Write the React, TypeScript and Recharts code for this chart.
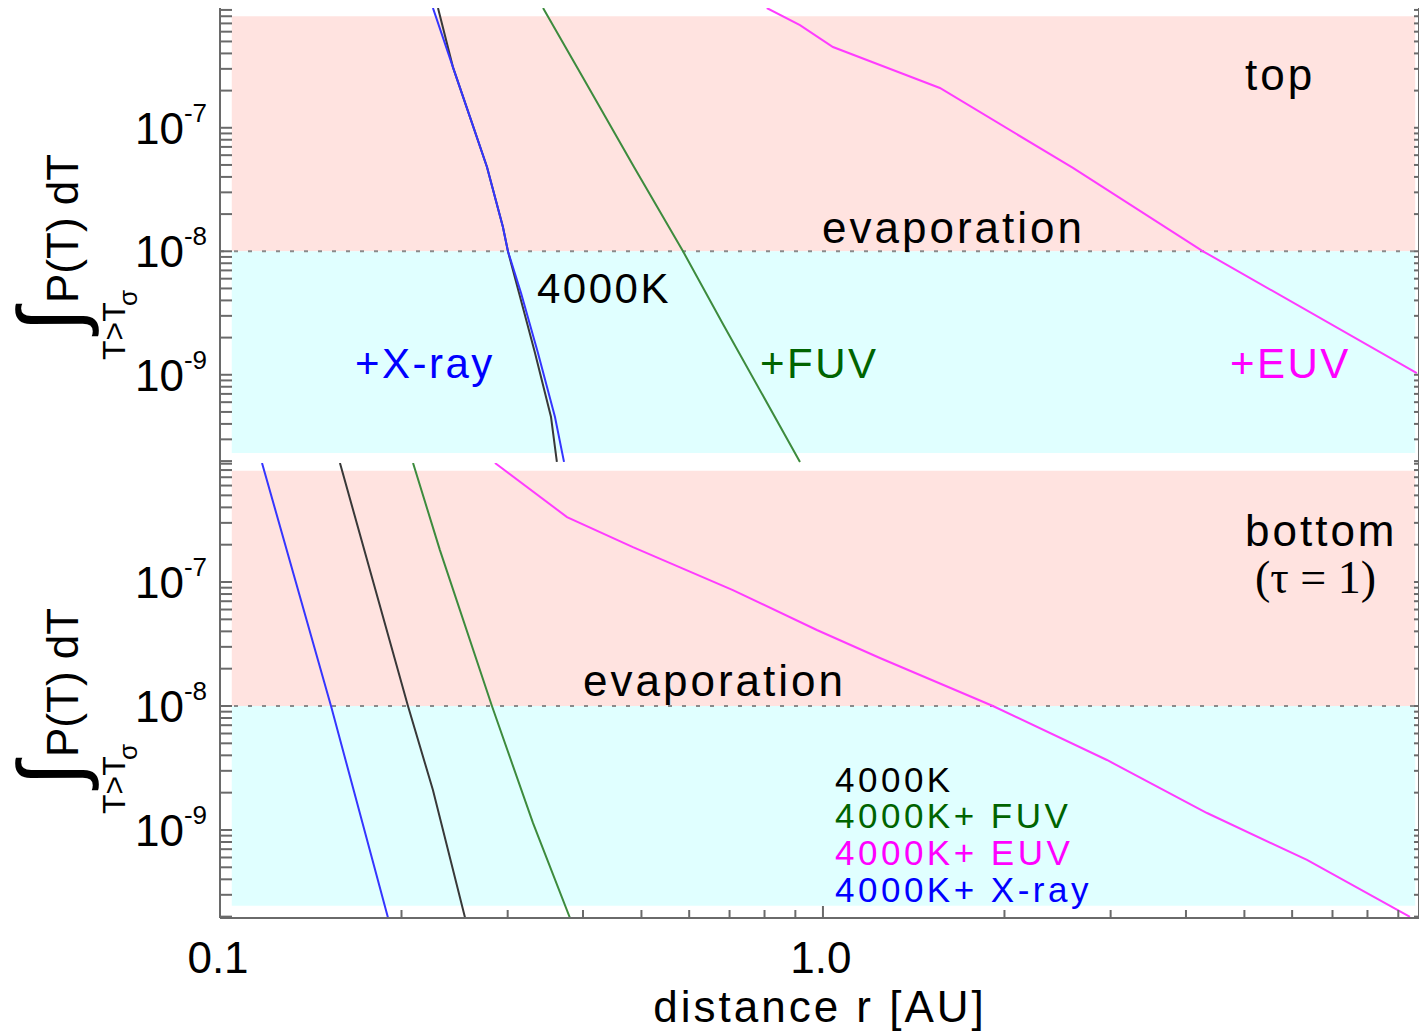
import React from "react";
import {
  ComposedChart,
  Line,
  XAxis,
  YAxis,
  ReferenceArea,
  ReferenceLine,
} from "recharts";

// Axis ticks
const R_TICKS = [0.1, 0.2, 0.3, 0.4, 0.5, 0.6, 0.7, 0.8, 0.9, 1, 2, 3, 4, 5, 6, 7, 8, 9];
const R_MAJOR = [0.1, 1];
const R_LABELS = ["0.1", "1.0"];
const P_MANTISSAS = [1, 2, 3, 4, 5, 6, 7, 8, 9];
const P_DECADES = [-10, -9, -8, -7, -6];
const P_LABELLED = [-9, -8, -7];

const R_DOMAIN = [0.1, 9.74];
const P_DOMAIN_TOP = [1.93e-10, 9.33e-7];
const P_DOMAIN_BOTTOM = [1.95e-10, 9.12e-7];
const EVAP_LIMIT = 1e-8;

// top panel (upper layer)
const TOP_4000K_R = [0.2299, 0.2434, 0.2598, 0.2772, 0.2946, 0.3003, 0.3133, 0.333, 0.354, 0.362];
const TOP_4000K_P = [9.33e-7, 3.1e-7, 1.22e-7, 4.82e-8, 1.57e-8, 1e-8, 4.59e-9, 1.5e-9, 4.55e-10, 1.97e-10];
const TOP_XRAY_R = [0.2255, 0.2434, 0.2598, 0.2772, 0.2946, 0.3003, 0.3157, 0.3368, 0.3594, 0.372];
const TOP_XRAY_P = [9.33e-7, 3.1e-7, 1.22e-7, 4.82e-8, 1.57e-8, 1e-8, 4.59e-9, 1.5e-9, 4.55e-10, 1.97e-10];
const TOP_FUV_R = [0.3434, 0.3994, 0.486, 0.586, 0.684, 0.916];
const TOP_FUV_P = [9.33e-7, 2.58e-7, 4.82e-8, 1e-8, 2.53e-9, 1.97e-10];
const TOP_EUV_R = [0.807, 0.916, 1.039, 1.243, 1.563, 2.598, 4.27, 9.66];
const TOP_EUV_P = [9.33e-7, 6.79e-7, 4.51e-7, 3.22e-7, 2.1e-7, 4.73e-8, 1e-8, 1.03e-9];

// bottom panel (tau = 1)
const BOT_XRAY_R = [0.1174, 0.1528, 0.19];
const BOT_XRAY_P = [9.12e-7, 1e-8, 1.95e-10];
const BOT_4000K_R = [0.1581, 0.205, 0.2255, 0.255];
const BOT_4000K_P = [9.12e-7, 1e-8, 2.1e-9, 1.95e-10];
const BOT_FUV_R = [0.209, 0.2316, 0.2825, 0.3304, 0.3806];
const BOT_FUV_P = [9.12e-7, 1.81e-7, 1e-8, 1.14e-9, 1.95e-10];
const BOT_EUV_R = [0.2858, 0.3763, 0.484, 0.709, 0.977, 1.243, 1.914, 2.958, 4.335, 6.35, 9.41];
const BOT_EUV_P = [9.12e-7, 3.34e-7, 1.91e-7, 8.61e-8, 4.1e-8, 2.44e-8, 1e-8, 3.67e-9, 1.37e-9, 5.73e-10, 1.99e-10];

const C_4000K = "#383838";
const C_XRAY = "#3535ff";
const C_FUV = "#3d8b3d";
const C_EUV = "#ff3cff";

const PINK = "#ffe3e0";
const CYAN = "#e0ffff";
const AXIS_COLOR = "#6a6a6a";
const SANS = "'Liberation Sans', Arial, Helvetica, sans-serif";

const zip = (r: number[], p: number[]) => r.map((v, i) => ({ r: v, p: p[i] }));

const TOP_LINES = [
  { key: "t4000", data: zip(TOP_4000K_R, TOP_4000K_P), color: C_4000K },
  { key: "txray", data: zip(TOP_XRAY_R, TOP_XRAY_P), color: C_XRAY },
  { key: "tfuv", data: zip(TOP_FUV_R, TOP_FUV_P), color: C_FUV },
  { key: "teuv", data: zip(TOP_EUV_R, TOP_EUV_P), color: C_EUV },
];

const BOTTOM_LINES = [
  { key: "bxray", data: zip(BOT_XRAY_R, BOT_XRAY_P), color: C_XRAY },
  { key: "b4000", data: zip(BOT_4000K_R, BOT_4000K_P), color: C_4000K },
  { key: "bfuv", data: zip(BOT_FUV_R, BOT_FUV_P), color: C_FUV },
  { key: "beuv", data: zip(BOT_EUV_R, BOT_EUV_P), color: C_EUV },
];

const pTicks = (domain: number[]) => {
  const out: number[] = [];
  P_DECADES.forEach((d) =>
    P_MANTISSAS.forEach((m) => {
      const v = m * Math.pow(10, d);
      if (v >= domain[0] && v <= domain[1]) out.push(v);
    })
  );
  return out;
};

const isMajorR = (v: number) => R_MAJOR.some((m) => Math.abs(v - m) < 1e-9);

// inward x ticks; dir = -1 points up (bottom axis), +1 points down (top axis)
const XTick = (props: any, dir: number, labelled: boolean) => {
  const { x, y, payload } = props;
  const major = isMajorR(payload.value);
  const len = major ? 12 : 8;
  const idx = R_MAJOR.findIndex((m) => Math.abs(payload.value - m) < 1e-9);
  return (
    <g>
      <line x1={x} x2={x} y1={y} y2={y + dir * len} stroke={AXIS_COLOR} strokeWidth={2} />
      {labelled && idx >= 0 && (
        <text x={x - 2} y={y + 55} textAnchor="middle" fontSize={44} fontFamily={SANS} fill="#000">
          {R_LABELS[idx]}
        </text>
      )}
    </g>
  );
};

const LeftTick = (props: any) => {
  const { x, y, payload } = props;
  const exp = Math.round(Math.log10(payload.value));
  const major = Math.abs(payload.value / Math.pow(10, exp) - 1) < 1e-6;
  return (
    <g>
      <line x1={x} x2={x + 12} y1={y} y2={y} stroke={AXIS_COLOR} strokeWidth={2} />
      {major && P_LABELLED.includes(exp) && (
        <text x={x - 13} y={y + 16} textAnchor="end" fontSize={44} fontFamily={SANS} fill="#000">
          <tspan>10</tspan>
          <tspan fontSize={26} dy={-22}>{`-${-exp}`}</tspan>
        </text>
      )}
    </g>
  );
};

const RightTick = (props: any) => {
  const { x, y } = props;
  return <line x1={x} x2={x - 5} y1={y} y2={y} stroke={AXIS_COLOR} strokeWidth={2} />;
};

interface PanelProps {
  lines: { key: string; data: { r: number; p: number }[]; color: string }[];
  pDomain: number[];
  pinkTop: number;
  cyanBottom: number;
  last: boolean;
}

const Panel: React.FC<PanelProps> = ({ lines, pDomain, pinkTop, cyanBottom, last }) => {
  const ticks = pTicks(pDomain);
  return (
    <div style={{ position: "absolute", left: 0, top: 0 }}>
      <ComposedChart
        width={1420}
        height={last ? 1032 : 463}
        margin={{ top: last ? 463 : 8, right: 0, bottom: 0, left: 0 }}
      >
        <XAxis
          xAxisId="b"
          dataKey="r"
          type="number"
          scale="log"
          domain={R_DOMAIN}
          allowDataOverflow
          ticks={R_TICKS}
          interval={0}
          height={last ? 114 : 0}
          tickSize={0}
          tickMargin={0}
          tickLine={false}
          axisLine={{ stroke: last ? AXIS_COLOR : "#3a3a3a", strokeWidth: 2 }}
          tick={(p: any) => XTick(p, -1, last)}
        />
        <XAxis
          xAxisId="t"
          orientation="top"
          dataKey="r"
          type="number"
          scale="log"
          domain={R_DOMAIN}
          allowDataOverflow
          ticks={R_TICKS}
          interval={0}
          height={0}
          tickSize={0}
          tickMargin={0}
          tickLine={false}
          axisLine={{ stroke: last ? "#3a3a3a" : AXIS_COLOR, strokeWidth: 2 }}
          tick={(p: any) => XTick(p, 1, false)}
        />
        <YAxis
          yAxisId="l"
          type="number"
          scale="log"
          domain={pDomain}
          allowDataOverflow
          ticks={ticks}
          interval={0}
          width={220}
          tickSize={0}
          tickMargin={0}
          tickLine={false}
          axisLine={{ stroke: AXIS_COLOR, strokeWidth: 2 }}
          tick={LeftTick}
        />
        <YAxis
          yAxisId="r"
          orientation="right"
          type="number"
          scale="log"
          domain={pDomain}
          allowDataOverflow
          ticks={ticks}
          interval={0}
          width={1}
          tickSize={0}
          tickMargin={0}
          tickLine={false}
          axisLine={{ stroke: AXIS_COLOR, strokeWidth: 2 }}
          tick={RightTick}
        />
        <ReferenceArea
          xAxisId="b"
          yAxisId="l"
          x1={0.1046}
          x2={9.6}
          y1={EVAP_LIMIT}
          y2={pinkTop}
          fill={PINK}
          fillOpacity={1}
          stroke="none"
        />
        <ReferenceArea
          xAxisId="t"
          yAxisId="r"
          x1={0.1046}
          x2={9.6}
          y1={cyanBottom}
          y2={EVAP_LIMIT}
          fill={CYAN}
          fillOpacity={1}
          stroke="none"
        />
        <ReferenceLine
          xAxisId="b"
          yAxisId="l"
          y={EVAP_LIMIT}
          stroke="#8a8a8a"
          strokeWidth={2}
          strokeDasharray="4 10"
        />
        {lines.map((s) => (
          <Line
            key={s.key}
            xAxisId="b"
            yAxisId="l"
            data={s.data}
            dataKey="p"
            type="linear"
            stroke={s.color}
            strokeWidth={2}
            dot={false}
            activeDot={false}
            isAnimationActive={false}
          />
        ))}
      </ComposedChart>
    </div>
  );
};

const YTitle: React.FC<{ dy: number }> = ({ dy }) => (
  <g fontFamily={SANS} fill="#000">
    <text x={80} y={320 + dy} transform={`rotate(-90 80 ${320 + dy})`} textAnchor="middle" fontSize={88} fontWeight={300}>
      ∫
    </text>
    <text x={125} y={360 + dy} transform={`rotate(-90 125 ${360 + dy})`} fontSize={32}>
      T&gt;T
    </text>
    <text x={137} y={306 + dy} transform={`rotate(-90 137 ${306 + dy})`} fontSize={26}>
      σ
    </text>
    <text x={78} y={303 + dy} transform={`rotate(-90 78 ${303 + dy})`} fontSize={44}>
      P(T) dT
    </text>
  </g>
);

const App: React.FC = () => {
  return (
    <div
      style={{
        position: "absolute",
        left: 0,
        top: 0,
        width: 1419,
        height: 1032,
        background: "#fff",
        overflow: "hidden",
      }}
    >
      <Panel lines={TOP_LINES} pDomain={P_DOMAIN_TOP} pinkTop={8.0e-7} cyanBottom={2.33e-10} last={false} />
      <Panel lines={BOTTOM_LINES} pDomain={P_DOMAIN_BOTTOM} pinkTop={7.9e-7} cyanBottom={2.45e-10} last={true} />
      <svg
        width={1419}
        height={1032}
        style={{ position: "absolute", left: 0, top: 0, pointerEvents: "none" }}
        fontFamily={SANS}
      >
        <YTitle dy={0} />
        <YTitle dy={454} />

        {/* upper panel annotations */}
        <text x={1245} y={90} fontSize={44} letterSpacing={3}>top</text>
        <text x={822} y={243} fontSize={44} letterSpacing={3}>evaporation</text>
        <text x={537} y={303} fontSize={42} letterSpacing={2.5}>4000K</text>
        <text x={355} y={378} fontSize={42} letterSpacing={2.5} fill="#0000ff">+X-ray</text>
        <text x={760} y={378} fontSize={42} letterSpacing={2.5} fill="#006400">+FUV</text>
        <text x={1230} y={378} fontSize={42} letterSpacing={2.5} fill="#ff00ff">+EUV</text>

        {/* lower panel annotations */}
        <text x={1245} y={546} fontSize={44} letterSpacing={3}>bottom</text>
        <text x={1255} y={593} fontSize={46} fontFamily="'Liberation Serif', 'Times New Roman', serif">
          (τ = 1)
        </text>
        <text x={583} y={696} fontSize={44} letterSpacing={3}>evaporation</text>
        <g fontSize={35} letterSpacing={3.5}>
          <text x={835} y={792} fill="#000">4000K</text>
          <text x={835} y={828} fill="#006400">4000K+ FUV</text>
          <text x={835} y={865} fill="#ff00ff">4000K+ EUV</text>
          <text x={835} y={902} fill="#0000ff">4000K+ X-ray</text>
        </g>

        <text x={820} y={1022} textAnchor="middle" fontSize={44} letterSpacing={3}>
          distance r [AU]
        </text>
      </svg>
    </div>
  );
};

export default App;
